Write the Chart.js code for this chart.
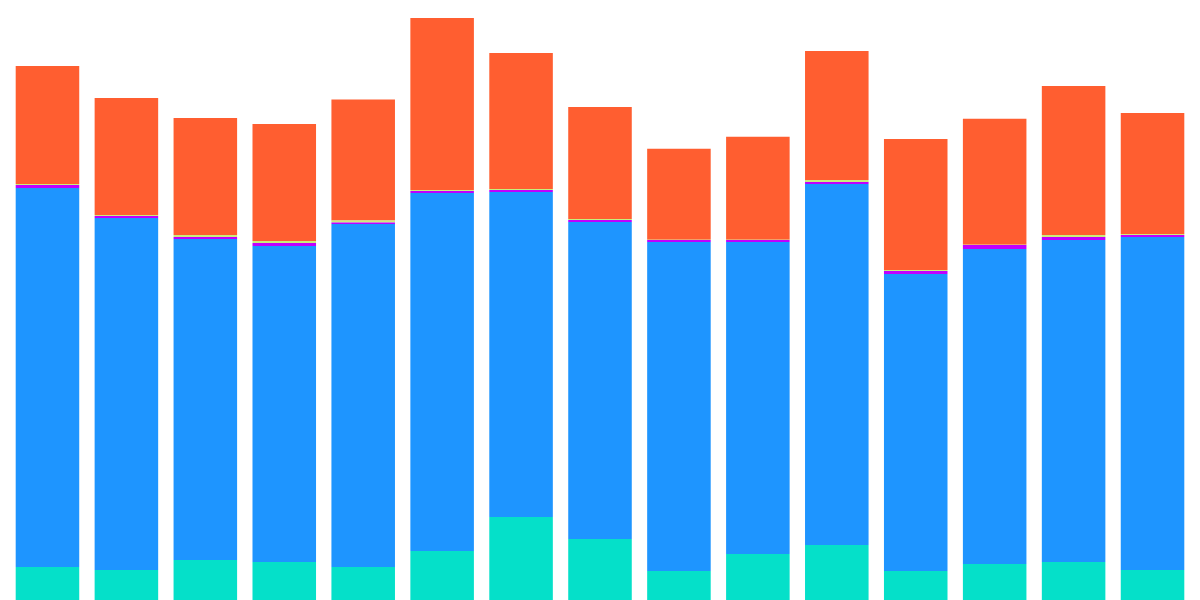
<!DOCTYPE html>
<html>
<head>
<meta charset="utf-8">
<script src="https://cdn.jsdelivr.net/npm/chart.js@4"></script>
<style>
  html, body { margin: 0; padding: 0; background: #fff; }
  #wrap { width: 1200px; height: 600px; }
</style>
</head>
<body>
<div id="wrap"><canvas id="chart"></canvas></div>
<script>
const categories = ['1', '2', '3', '4', '5', '6', '7', '8', '9', '10', '11', '12', '13', '14', '15'];
const tealValues    = [33, 30, 40, 38, 33, 49, 83, 61, 29, 46, 55, 29, 36, 38, 30];
const blueValues    = [379, 352, 321, 316, 343, 358, 325, 317, 329, 312, 361, 297, 315, 322, 333];
const magentaValues = [3, 2, 2, 3, 1.5, 2, 2, 2, 2, 2, 2, 3, 4, 3, 2];
const greenValues   = [1, 1, 2, 2, 2, 1, 1, 1, 0.3, 0.3, 2, 1, 0.3, 2, 1];
const orangeValues  = [118, 117, 117, 117, 121, 172, 136, 112, 91, 103, 129, 131, 126, 149, 121];

function series(label, data, color) {
    return {
        label: label,
        data: data,
        backgroundColor: color,
        borderWidth: 0,
        barPercentage: 0.805,
        categoryPercentage: 1.0
    };
}

document.addEventListener('DOMContentLoaded', function() {
    const ctx = document.getElementById('chart').getContext('2d');
    new Chart(ctx, {
        type: 'bar',
        data: {
            labels: categories,
            datasets: [
                series('Teal', tealValues, '#05E0C9'),
                series('Blue', blueValues, '#1E95FF'),
                series('Magenta', magentaValues, '#C000FF'),
                series('Green', greenValues, '#C8EE7C'),
                series('Orange', orangeValues, '#FF5E30')
            ]
        },
        options: {
            responsive: true,
            maintainAspectRatio: false,
            animation: false,
            layout: { padding: { left: 8, right: 8, top: 0, bottom: 0 } },
            plugins: {
                legend: { display: false },
                tooltip: { enabled: false }
            },
            scales: {
                x: { stacked: true, display: false },
                y: { stacked: true, display: false, min: 0, max: 600 }
            }
        }
    });
});
</script>
</body>
</html>
